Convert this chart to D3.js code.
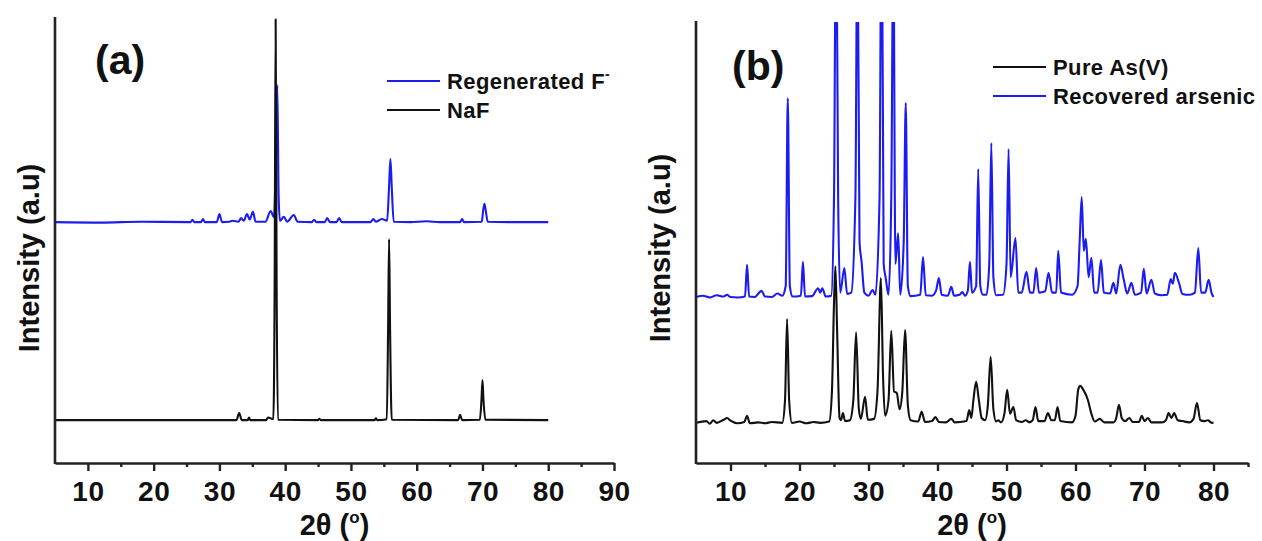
<!DOCTYPE html>
<html>
<head>
<meta charset="utf-8">
<script src="https://cdn.jsdelivr.net/npm/d3@7/dist/d3.min.js"></script>
<style>
body{margin:0;background:#fff;}
text{font-family:"Liberation Sans",Arial,Helvetica,sans-serif;}
</style>
</head>
<body>
<svg width="1262" height="541"></svg>
<script>
// ---- panel (a) data : [2theta, intensity] ----
var naf = [[5,9.4],[32.6,9.4],[33.0,11.0],[33.4,9.4],[34.3,9.4],[34.5,10],[34.7,9.4],[37.1,9.4],[37.4,10],[38.2,9.6],
  [38.4,40],[38.55,99.5],[38.7,40],[38.9,9.5],[45,9.4],[45.2,9.7],[45.4,9.4],[53.6,9.4],[53.8,9.8],[54.0,9.4],[55.45,9.6],[55.65,30],[55.8,50.1],
  [55.95,30],[56.2,9.5],[66.3,9.4],[66.6,10.6],[66.9,9.4],[69.6,9.5],[69.85,14],[70.0,18.4],[70.15,14],[70.45,9.5],[80,9.4]];
var regenF = [[5,53.9],[12,53.8],[18,54.0],[25.6,53.9],[25.9,54.4],[26.2,53.9],[27.2,53.9],[27.5,54.6],[27.8,53.9],[29.6,53.9],
  [30.0,55.7],[30.4,53.9],[31.5,54.0],[32.0,54.2],[32.9,54.0],[33.3,54.8],[33.7,54.2],[34.2,55.7],[34.6,54.5],[35.1,56.2],
  [35.5,54.0],[37.0,54.0],[37.8,56.4],[38.3,55],[38.6,70],[38.8,84.7],[39.0,60],[39.2,54.2],[39.8,55.1],[40.3,54.0],
  [41.3,55.5],[41.9,54.0],[44.0,53.9],[44.4,54.4],[44.8,53.9],[46.0,53.9],[46.4,54.8],[46.8,53.9],[47.8,53.9],[48.2,54.8],
  [48.6,53.9],[53.0,53.9],[53.4,54.6],[53.8,54.0],[54.7,54.6],[55.5,54.2],[55.8,62],[56.0,68.1],[56.2,62],[56.5,54.0],
  [59,53.9],[61.5,54.1],[63.5,53.9],[66.6,53.9],[66.9,54.6],[67.2,53.9],[69.9,54.0],[70.1,56.5],[70.3,58.0],[70.5,56.5],
  [70.8,54.0],[74,53.9],[80,53.9]];

// ---- panel (b) data ----
var pureAs = [[5,8.9],[6.5,9.3],[7,8.7],[7.5,9.5],[8,8.9],[9,9.6],[9.5,10],[10,9.4],[11,8.8],[12,9.1],[12.4,10.5],[12.8,8.8],
  [14,9.0],[15,8.8],[16,9.1],[17.5,8.9],[17.9,14],[18.2,32.5],[18.5,14],[18.9,8.9],[20,9.2],[21,8.8],[22,9.1],[23,8.9],
  [24.3,9.2],[24.7,16],[25.0,36],[25.2,44.5],[25.45,30],[25.8,10],[26.0,9.5],[26.3,11.1],[26.6,9.3],[27.3,9.5],[27.8,14],
  [28.2,29.5],[28.6,12],[28.9,9.8],[29.5,14.8],[29.9,9.6],[30.8,9.8],[31.3,16],[31.8,41.8],[32.1,20],[32.4,10.5],[32.9,14],
  [33.3,29.8],[33.7,16],[34.1,15.7],[34.5,12],[34.9,16],[35.3,30],[35.7,13],[36.1,9.5],[37.2,9.2],[37.7,11.4],[38.2,9.1],
  [39.2,9.3],[39.7,10.2],[40.2,9.1],[41.2,9.0],[42,9.8],[42.5,9.0],[44.2,9.3],[44.6,11.8],[44.9,10],[45.2,14],[45.6,18.2],
  [46.0,14],[46.4,10],[46.9,9.5],[47.3,13],[47.7,23.9],[48.1,12],[48.5,9.2],[48.8,9.5],[49.2,9.0],[49.7,11],[50.1,16.4],
  [50.5,11],[51.0,12.5],[51.4,9.5],[52.2,9.1],[52.8,9.5],[53.3,9.0],[53.8,9.5],[54.2,12.5],[54.6,9.3],[55.5,9.3],[56.0,11.1],
  [56.5,9.5],[57.0,9.5],[57.4,12.5],[57.8,9.3],[59.5,9.0],[60.0,10.5],[60.4,16.5],[60.7,17.3],[61.1,16.5],[61.8,14.1],
  [62.3,11],[62.8,9.2],[63.5,9.8],[64.2,9.0],[65.5,9.0],[65.9,10],[66.3,13],[66.7,10],[67.2,9.3],[67.8,10],[68.3,9.1],
  [69.2,9.1],[69.6,10.5],[70.0,9.3],[70.5,10],[71,9.0],[72.5,9.0],[73.1,9.5],[73.5,11.1],[73.9,10],[74.3,11.1],[74.8,9.5],
  [75.5,9.3],[76.5,9.0],[77.1,9.8],[77.6,13.4],[78.1,9.5],[78.7,9.3],[79.2,9.5],[79.6,9.0],[80,8.9]];
var recovered = [[5,37.5],[6,37.8],[7,37.4],[8,37.9],[9,37.6],[9.5,38.0],[10,37.5],[11,37.4],[12.1,37.6],[12.4,44.8],[12.7,37.6],
  [13.5,37.5],[14.5,38.9],[15,37.6],[16,37.5],[16.8,38.3],[17.5,37.8],[18.0,40],[18.3,82.7],[18.6,40],[19,37.6],[20.2,37.8],
  [20.5,45.5],[20.8,37.6],[21.8,37.7],[22.7,39.5],[23,38.5],[23.3,39.5],[23.8,37.6],[24.6,37.8],[25.0,60],[25.3,130],[25.6,60],
  [25.9,38.5],[26.5,44.1],[26.9,38.2],[27.5,38.5],[28.1,60],[28.4,125],[28.7,50],[29.0,45.5],[29.4,38.5],[30.0,37.8],[30.6,39.1],
  [31.0,38],[31.6,60],[31.9,135],[32.2,45],[32.5,41.8],[32.9,38],[33.3,60],[33.6,120],[33.9,45],[34.3,52],[34.6,38],[35.1,50],
  [35.4,81.6],[35.7,40],[36.1,37.7],[37.5,38],[37.9,46.6],[38.3,37.9],[39.2,37.8],[39.8,39],[40.2,41.8],[40.6,38],[41.5,37.8],
  [42.0,39.8],[42.4,37.8],[43.2,38],[43.6,38.6],[44.0,37.8],[44.4,39],[44.7,45.5],[45.0,38.5],[45.6,40],[45.9,66.6],[46.2,40],
  [46.6,38],[47.1,38],[47.5,45],[47.8,72.5],[48.1,42],[48.5,37.9],[49.5,38],[50.0,45],[50.3,71.1],[50.6,42],[51.3,50.9],
  [51.7,38.5],[52.2,38.5],[52.9,43.2],[53.4,38.5],[53.9,38.5],[54.3,44.1],[54.7,38.5],[55.6,38.8],[56.1,43],[56.6,38.5],
  [57.2,38.5],[57.5,48],[57.9,38.5],[59.5,38],[60.3,40],[60.6,50],[60.9,60.2],[61.2,48],[61.5,50.7],[61.9,42],[62.3,46.4],
  [62.7,38.5],[63.2,38.5],[63.7,45.9],[64.1,38.5],[65.0,38.3],[65.5,40.7],[65.9,38.3],[66.5,44.8],[67.0,41.4],[67.5,38.3],
  [68.1,40.7],[68.6,38],[69.5,38.5],[69.9,43.9],[70.3,38.3],[71.0,41.4],[71.5,38.3],[72.5,37.9],[73.3,38],[73.8,41.6],
  [74.1,40.5],[74.4,43],[75.0,40.7],[75.5,38.2],[76.5,38],[77.3,38.5],[77.8,48.6],[78.2,38.5],[78.8,38.5],[79.3,41.4],
  [79.7,38.5],[80,37.5]];

var majorA = [10,20,30,40,50,60,70,80,90];
var minorA = [15,25,35,45,55,65,75,85];
var majorB = [10,20,30,40,50,60,70,80];
var minorB = [15,25,35,45,55,65,75,85];

var blue = '#1c1cf0';
var black = '#111';
var font = '"Liberation Sans",Arial,sans-serif';

var svg = d3.select('svg');
svg.append('rect').attr('width',1262).attr('height',541).attr('fill','#fff');

function drawPanel(p) {
  var x = d3.scaleLinear().domain(p.xdom).range(p.xr);
  var y = d3.scaleLinear().domain([0,100]).range(p.yr);
  var g = svg.append('g');
  var line = d3.line().curve(d3.curveMonotoneX)
    .x(function(d){return x(d[0]);}).y(function(d){return y(d[1]);});

  g.append('clipPath').attr('id', p.id + 'clip').append('rect')
    .attr('x', p.xr[0]).attr('y', p.yr[1]).attr('width', p.xr[1]-p.xr[0]).attr('height', p.yr[0]-p.yr[1]);

  // blue drawn first, black on top
  p.series.forEach(function(s){
    g.append('path').datum(s.data).attr('d', line).attr('fill','none')
      .attr('stroke', s.color).attr('stroke-width', 2.1).attr('stroke-linejoin','round')
      .attr('clip-path', 'url(#' + p.id + 'clip)');
  });

  var ax = g.append('g').attr('transform','translate(0,' + (p.yr[0]+1) + ')')
    .call(d3.axisBottom(x).tickValues(p.major).tickSize(8).tickSizeOuter(0));
  ax.select('.domain').attr('stroke','#222').attr('stroke-width',2.6);
  ax.selectAll('.tick line').attr('stroke','#222').attr('stroke-width',2.4);
  ax.selectAll('.tick text').attr('y',38).attr('dy',0).attr('fill','#111')
    .attr('font-size',28).attr('font-weight','bold').attr('font-family',font)
    .attr('letter-spacing',0.5);

  var mx = g.append('g').attr('transform','translate(0,' + (p.yr[0]+1) + ')')
    .call(d3.axisBottom(x).tickValues(p.minor).tickSize(4).tickFormat(''));
  mx.select('.domain').remove();
  mx.selectAll('.tick line').attr('stroke','#222').attr('stroke-width',2.4);

  var ay = g.append('g').attr('transform','translate(' + p.xr[0] + ',0)')
    .call(d3.axisLeft(y).tickValues([]).tickSizeOuter(0));
  ay.select('.domain').attr('stroke','#222').attr('stroke-width',2.6)
    .attr('d','M0,' + p.ytop + 'V' + (p.yr[0]+2));

  var xt = g.append('text').attr('x', (p.xr[0]+p.xr[1])/2).attr('y', 535).attr('text-anchor','middle')
    .attr('font-size',29).attr('font-weight','bold').attr('fill','#111');
  xt.append('tspan').text('2θ (');
  xt.append('tspan').attr('font-size',17).attr('dy',-12).text('o');
  xt.append('tspan').attr('dy',12).text(')');

  g.append('text').attr('transform','translate(' + p.ytx + ',' + p.yty + ') rotate(-90)')
    .attr('text-anchor','middle').attr('font-size',29).attr('font-weight','bold').attr('fill','#111')
    .text('Intensity (a.u)');

  g.append('text').attr('x', p.lab[0]).attr('y', p.lab[1]).attr('font-size',41)
    .attr('font-weight','bold').attr('fill','#111').text(p.label);

  p.legend.forEach(function(l, i){
    var ly = p.leg[1] + i*29;
    g.append('line').attr('x1', p.leg[0]).attr('x2', p.leg[0]+53).attr('y1', ly).attr('y2', ly)
      .attr('stroke', l.color).attr('stroke-width', 2.2);
    var t = g.append('text').attr('x', p.leg[0]+60).attr('y', ly+8).attr('font-size',22)
      .attr('font-weight','bold').attr('fill','#111').attr('letter-spacing',0.4).text(l.name);
    if (l.sup) t.append('tspan').attr('dy',-10).attr('font-size',14).text(l.sup);
  });
}

drawPanel({
  id:'a', xdom:[5,90], xr:[55,614], yr:[462,17], ytop:17,
  major:majorA, minor:minorA, label:'(a)', lab:[95,74],
  ytx:39, yty:258, leg:[387,81],
  series:[{data:regenF, color:blue},{data:naf, color:black}],
  legend:[{name:'Regenerated F', sup:'-', color:blue},{name:'NaF', color:black}]
});

drawPanel({
  id:'b', xdom:[5,85], xr:[696,1248], yr:[462,22], ytop:21,
  major:majorB, minor:minorB, label:'(b)', lab:[732,80],
  ytx:670, yty:248, leg:[993,67],
  series:[{data:recovered, color:blue},{data:pureAs, color:black}],
  legend:[{name:'Pure As(V)', color:black},{name:'Recovered arsenic', color:blue}]
});
</script>
</body>
</html>
